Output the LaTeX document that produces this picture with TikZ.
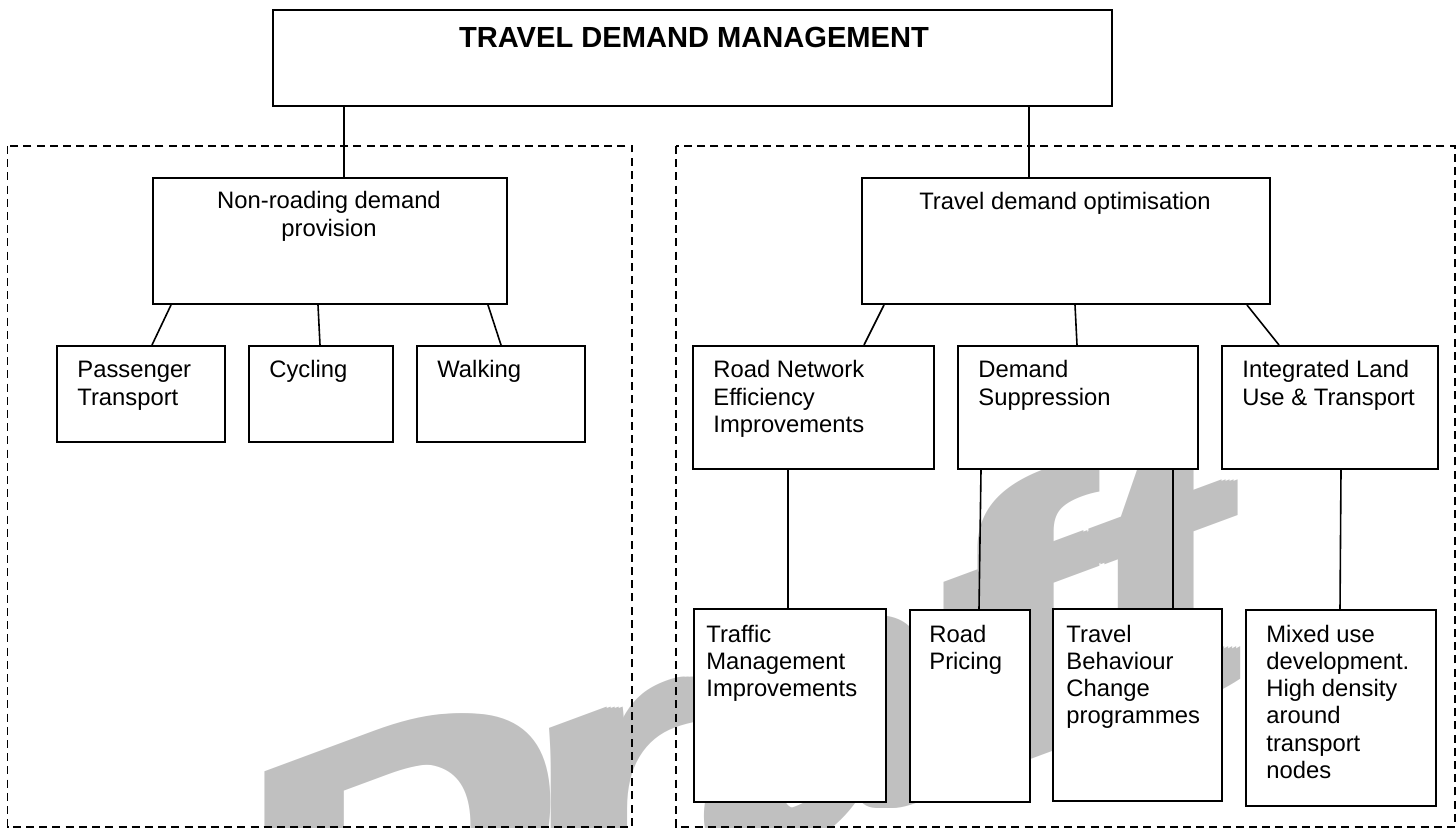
\documentclass[tikz,border=0pt]{standalone}
\usepackage{fontspec}
\setmainfont{Liberation Sans}
\usetikzlibrary{calc}
\definecolor{wmgray}{RGB}{192,192,192}
\newcommand{\tlines}[1]{\begin{tabular}[t]{@{}l@{}}#1\end{tabular}}
\newcommand{\clines}[1]{\begin{tabular}[t]{@{}c@{}}#1\end{tabular}}
\begin{document}
\begin{tikzpicture}[x=0.5pt,y=0.5pt,
  box/.style={draw, line width=1pt, fill=white, inner sep=0pt, anchor=north west},
  lbl/.style={anchor=base west, inner sep=0pt, font=\fontsize{11.9}{13.65}\selectfont},
  clbl/.style={anchor=base, inner sep=0pt, font=\fontsize{11.9}{13.65}\selectfont},
  link/.style={line width=0.8pt},
  frame/.style={line width=0.6pt, dash pattern=on 4pt off 2.6pt},
  wmtext/.style={transform shape, anchor=base west, inner sep=0pt, text=wmgray,
        font=\fontsize{192.5}{200}\selectfont\bfseries}]
\useasboundingbox (0,0) rectangle (1456,-828);
\clip (0,0) rectangle (1456,-828);
% watermark (thickened by overlaid copies)
\foreach \dx in {-8,-4,4,8}{
  \begin{scope}[shift={(243+\dx,-1048)}, cm={1.143,0.423,0,1,(0,0)}]
    \node[wmtext] at (0,0) {D\kern-14.4pt raft};
  \end{scope}
}
\begin{scope}[shift={(243,-1048)}, cm={1.143,0.423,0,1,(0,0)}]
  \node[wmtext] (wm) at (0,0) {D\kern-14.4pt raft};
\end{scope}
% dashed groups
\draw[frame] (7.5,-146) rectangle (632,-827);
\draw[frame] (676,-146) rectangle (1455,-827);
% boxes
\node[box, minimum width=419.5pt, minimum height=48pt] (tdm) at (272,-9) {};
\node[box, minimum width=177pt, minimum height=63pt] (nr) at (152,-177) {};
\node[box, minimum width=204pt, minimum height=63pt] (tdo) at (861,-177) {};
\node[box, minimum width=84pt, minimum height=48pt] (pt) at (56,-345) {};
\node[box, minimum width=72pt, minimum height=48pt] (cy) at (248,-345) {};
\node[box, minimum width=84pt, minimum height=48pt] (wa) at (416,-345) {};
\node[box, minimum width=120.5pt, minimum height=61.5pt] (rn) at (692,-345) {};
\node[box, minimum width=120pt, minimum height=61.5pt] (ds) at (957,-345) {};
\node[box, minimum width=108pt, minimum height=61.5pt] (il) at (1221,-345) {};
\node[box, minimum width=96pt, minimum height=96.5pt] (tm) at (693,-608) {};
\node[box, minimum width=60pt, minimum height=96pt] (rp) at (909,-609) {};
\node[box, minimum width=84.5pt, minimum height=96pt] (tb) at (1052,-608) {};
\node[box, minimum width=95pt, minimum height=98pt] (mx) at (1245,-609) {};
% connectors
\draw[link] ($(tdm.south west)+(72,0)$) -- ($(nr.north west)+(192,0)$);
\draw[link] ($(tdm.south west)+(757,0)$) -- ($(tdo.north west)+(168,0)$);
\draw[link] ($(nr.south west)+(19,0)$) -- ($(pt.north west)+(96,0)$);
\draw[link] ($(nr.south west)+(166,0)$) -- ($(cy.north west)+(72,0)$);
\draw[link] ($(nr.south west)+(336,0)$) -- ($(wa.north west)+(85,0)$);
\draw[link] ($(tdo.south west)+(23,0)$) -- ($(rn.north west)+(172,0)$);
\draw[link] ($(tdo.south west)+(214,0)$) -- ($(ds.north west)+(120,0)$);
\draw[link] ($(tdo.south west)+(386,0)$) -- ($(il.north west)+(58,0)$);
\draw[link] ($(rn.south west)+(96,0)$) -- ($(tm.north west)+(95,0)$);
\draw[link] ($(ds.south west)+(24,0)$) -- ($(rp.north west)+(70,0)$);
\draw[link] ($(ds.south west)+(216,0)$) -- ($(tb.north west)+(121,0)$);
\draw[link] ($(il.south west)+(120,0)$) -- ($(mx.north west)+(95,0)$);
% texts
\node[anchor=base, inner sep=0pt, font=\fontsize{14.55}{17}\selectfont\bfseries] (ttdm) at (694,-48) {TRAVEL DEMAND MANAGEMENT};
\node[clbl] (tnr) at (329,-209) {\clines{Non-roading demand\\provision}};
\node[clbl] (ttdo) at (1065,-210) {Travel demand optimisation};
\node[lbl] (tpt) at (77,-378) {\tlines{Passenger\\Transport}};
\node[lbl] (tcy) at (269,-378) {Cycling};
\node[lbl] (twa) at (437,-378) {Walking};
\node[lbl] (trn) at (713,-378) {\tlines{Road Network\\Efficiency\\Improvements}};
\node[lbl] (tds) at (978,-378) {\tlines{Demand\\Suppression}};
\node[lbl] (til) at (1242,-378) {\tlines{Integrated Land\\Use \& Transport}};
\node[lbl] (ttm) at (706,-642) {\tlines{Traffic\\Management\\Improvements}};
\node[lbl] (trp) at (929,-642) {\tlines{Road\\Pricing}};
\node[lbl] (ttb) at (1066,-642) {\tlines{Travel\\Behaviour\\Change\\programmes}};
\node[lbl] (tmx) at (1266,-642) {\tlines{Mixed use\\development.\\High density\\around\\transport\\nodes}};
\end{tikzpicture}
\end{document}
